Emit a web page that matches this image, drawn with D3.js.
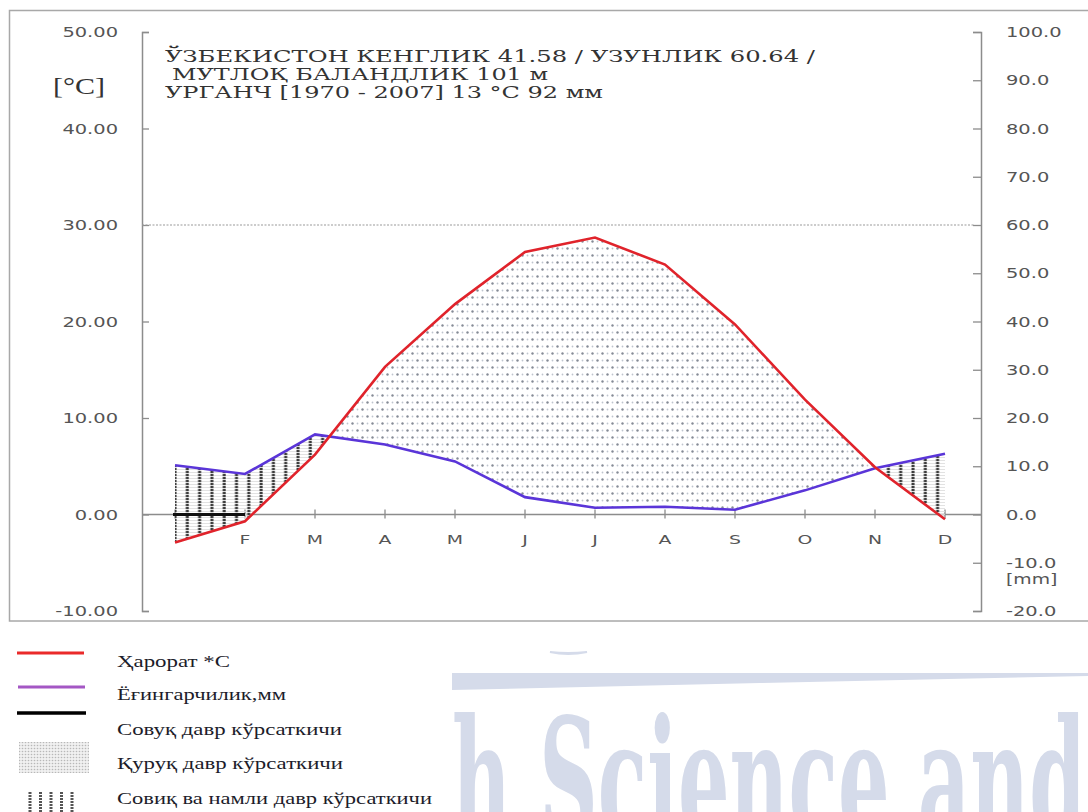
<!DOCTYPE html>
<html>
<head>
<meta charset="utf-8">
<script src="https://cdn.jsdelivr.net/npm/d3@7"></script>
<style>
body { margin: 0; background: #fff; }
svg { display: block; }
</style>
</head>
<body>
<svg id="chart" width="1088" height="812"></svg>
<script>
"use strict"

// climate data, Urgench 1970-2007
const months = ["J", "F", "M", "A", "M", "J", "J", "A", "S", "O", "N", "D"]
const temperature = [-2.9, -0.7, 6.2, 15.3, 21.8, 27.2, 28.7, 25.9, 19.7, 11.9, 4.9, -0.5]
const precipitation = [10.2, 8.4, 16.6, 14.5, 11.0, 3.6, 1.4, 1.6, 1.0, 5.0, 9.6, 12.6]
const coldMonths = [0, 1]

const tempTicks = [-10, 0, 10, 20, 30, 40, 50]
const precTicks = [-20, -10, 0, 10, 20, 30, 40, 50, 60, 70, 80, 90, 100]

const titleLines = [
    "ЎЗБЕКИСТОН  КЕНГЛИК  41.58 / УЗУНЛИК 60.64 /",
    "МУТЛОҚ БАЛАНДЛИК 101 м",
    "УРГАНЧ [1970 - 2007] 13 °C   92 мм"
]
const legendLabels = [
    "Ҳарорат *С",
    "Ёғингарчилик,мм",
    "Совуқ давр кўрсаткичи",
    "Қуруқ давр кўрсаткичи",
    "Совиқ ва намли давр кўрсаткичи"
]
const watermarkText = "h Science and"

const svg = d3.select("#chart")
const axisGray = "#8c8c8c"
const labelGray = "#555"
const red = "#e0232b"
const blue = "#5a35d8"
const serif = "'Liberation Serif', 'DejaVu Serif', serif"

// stretch text horizontally like the scanned original
function stretch(sel, k) {
    sel.each(function() {
        let w = this.getComputedTextLength()
        if (w > 0) d3.select(this).attr("textLength", w * k).attr("lengthAdjust", "spacingAndGlyphs")
    })
}

function fitTo(sel, width) {
    sel.attr("textLength", width).attr("lengthAdjust", "spacingAndGlyphs")
}

// ---------- watermark (behind everything) ----------
const wm = svg.append("g").attr("fill", "#d5dbea")
wm.append("path")
    .attr("d", "M452,673 L1088,673 L1088,676 L760,683 L452,690 Z")
wm.append("path")
    .attr("d", "M550,652 Q568,656 587,652 Q568,654 550,652 Z")
    .attr("stroke", "#d5dbea").attr("stroke-width", 2)
wm.append("text")
    .attr("x", 452).attr("y", 840)
    .style("font-family", "'DejaVu Serif'")
    .style("font-weight", "bold")
    .style("font-size", "168px")
    .text(watermarkText)
    .call(fitTo, 634)

// ---------- frame ----------
svg.append("rect")
    .attr("x", 9.5).attr("y", 10.5)
    .attr("width", 1100).attr("height", 610.5)
    .attr("fill", "none").attr("stroke", "#a8a8a8").attr("stroke-width", 1.5)

// ---------- scales ----------
const x = d3.scaleLinear().domain([0, 11]).range([175, 945])
const yT = d3.scaleLinear().domain([-10, 50]).range([611, 32])
const yP = d3.scaleLinear().domain([-20, 100]).range([611, 32])
const axisLeftX = 142, axisRightX = 981

const rows = d3.range(months.length).map(i => ({ i: i, t: temperature[i], p: precipitation[i] }))

// ---------- patterns ----------
const defs = svg.append("defs")

const dots = defs.append("pattern")
    .attr("id", "dots").attr("patternUnits", "userSpaceOnUse")
    .attr("width", 10).attr("height", 14)
dots.append("circle").attr("cx", 2.5).attr("cy", 3.5).attr("r", 1.2).attr("fill", "#858b96")
dots.append("circle").attr("cx", 7.5).attr("cy", 10.5).attr("r", 1.2).attr("fill", "#858b96")
dots.append("circle").attr("cx", 7.5).attr("cy", 3.5).attr("r", 0.9).attr("fill", "#bfc5ce")
dots.append("circle").attr("cx", 2.5).attr("cy", 10.5).attr("r", 0.9).attr("fill", "#bfc5ce")

const hatch = defs.append("pattern")
    .attr("id", "hatch").attr("patternUnits", "userSpaceOnUse")
    .attr("x", 173).attr("width", 12.3).attr("height", 3)
hatch.append("line")
    .attr("x1", 0).attr("x2", 12.3).attr("y1", 1.5).attr("y2", 1.5)
    .attr("stroke", "#dcdcdc").attr("stroke-width", 0.8)
hatch.append("line")
    .attr("x1", 2).attr("x2", 2).attr("y1", 0).attr("y2", 3)
    .attr("stroke", "#3a3a3a").attr("stroke-width", 3).attr("stroke-dasharray", "2.2,0.8")

const legendDots = defs.append("pattern")
    .attr("id", "legendDots").attr("patternUnits", "userSpaceOnUse")
    .attr("width", 3).attr("height", 3)
legendDots.append("rect").attr("width", 3).attr("height", 3).attr("fill", "#f0f0f0")
legendDots.append("circle").attr("cx", 1.5).attr("cy", 1.5).attr("r", 0.8).attr("fill", "#b8b8b8")

// clip regions: below red line, below blue line
const belowRed = d3.area().x(d => x(d.i)).y0(812).y1(d => yT(d.t))
const belowBlue = d3.area().x(d => x(d.i)).y0(812).y1(d => yP(d.p))
defs.append("clipPath").attr("id", "clipBelowRed").append("path").attr("d", belowRed(rows))
defs.append("clipPath").attr("id", "clipBelowBlue").append("path").attr("d", belowBlue(rows))

// ---------- axes ----------
const gLeft = svg.append("g")
    .attr("transform", "translate(" + axisLeftX + ",0)")
    .call(d3.axisLeft(yT).tickValues(tempTicks).tickFormat(d => d.toFixed(2))
        .tickSize(-7).tickPadding(24))
const gRight = svg.append("g")
    .attr("transform", "translate(" + axisRightX + ",0)")
    .call(d3.axisRight(yP).tickValues(precTicks).tickFormat(d => d.toFixed(1))
        .tickSize(-8).tickPadding(25))

;[gLeft, gRight].forEach(g => {
    g.select(".domain").attr("stroke", axisGray).attr("stroke-width", 1.5)
    g.selectAll(".tick line").attr("stroke", axisGray).attr("stroke-width", 1.3)
    g.selectAll(".tick text")
        .attr("fill", labelGray)
        .style("font-family", "'DejaVu Sans'")
        .style("font-size", "14.5px")
        .call(stretch, 1.34)
})

gRight.append("text")
    .attr("x", 25).attr("y", yP(-10) + 21)
    .attr("fill", labelGray)
    .style("font-family", "'DejaVu Sans'")
    .style("font-size", "14.5px")
    .text("[mm]")
    .call(stretch, 1.3)

// 30 °C / 60 mm reference line
svg.append("line")
    .attr("x1", axisLeftX).attr("x2", axisRightX - 6)
    .attr("y1", yT(30)).attr("y2", yT(30))
    .attr("stroke", "#9a9a9a").attr("stroke-width", 1.2).attr("stroke-dasharray", "2,1.5")

// month axis on the zero line
const gX = svg.append("g")
    .attr("transform", "translate(0," + yT(0) + ")")
gX.append("line")
    .attr("x1", axisLeftX).attr("x2", axisRightX)
    .attr("stroke", axisGray).attr("stroke-width", 1.5)
gX.selectAll(".mtick")
    .data(rows)
    .enter().append("line")
        .attr("class", "mtick")
        .attr("x1", d => x(d.i)).attr("x2", d => x(d.i))
        .attr("y1", -5).attr("y2", 4)
        .attr("stroke", axisGray).attr("stroke-width", 1.3)
gX.selectAll(".mlabel")
    .data(rows.slice(1)) // January label is hidden under the humid fill in the original
    .enter().append("text")
        .attr("class", "mlabel")
        .attr("x", d => x(d.i)).attr("y", 29)
        .attr("text-anchor", "middle")
        .attr("fill", labelGray)
        .style("font-family", "'DejaVu Sans'")
        .style("font-size", "13px")
        .text(d => months[d.i])
        .call(stretch, 1.45)

// ---------- fills ----------
// dry: below temperature, above precipitation
svg.append("path")
    .attr("clip-path", "url(#clipBelowRed)")
    .attr("fill", "url(#dots)")
    .attr("d", d3.area().x(d => x(d.i)).y0(0).y1(d => yP(d.p))(rows))

// humid: below precipitation, above temperature
svg.append("path")
    .attr("clip-path", "url(#clipBelowBlue)")
    .attr("fill", "url(#hatch)")
    .attr("d", d3.area().x(d => x(d.i)).y0(0).y1(d => yT(d.t))(rows))

// ---------- lines ----------
svg.append("path")
    .datum(rows)
    .attr("fill", "none").attr("stroke", blue).attr("stroke-width", 2.6)
    .attr("d", d3.line().x(d => x(d.i)).y(d => yP(d.p)))

svg.append("path")
    .datum(rows)
    .attr("fill", "none").attr("stroke", red).attr("stroke-width", 2.6)
    .attr("d", d3.line().x(d => x(d.i)).y(d => yT(d.t)))

svg.append("line")
    .attr("x1", x(coldMonths[0]) - 2).attr("x2", x(coldMonths[coldMonths.length - 1]))
    .attr("y1", yT(0)).attr("y2", yT(0))
    .attr("stroke", "#111").attr("stroke-width", 3.2)

// ---------- title ----------
const titleX = [165, 172, 165]
const titleW = [650, 376, 438]
const titleY = [62, 80, 98]
svg.append("g").selectAll("text")
    .data(titleLines)
    .enter().append("text")
        .attr("x", (d, i) => titleX[i])
        .attr("y", (d, i) => titleY[i])
        .attr("fill", "#333")
        .attr("font-family", "DejaVu Serif")
        .attr("font-size", 16)
        .text(d => d)
        .each(function(d, i) { fitTo(d3.select(this), titleW[i]) })

svg.append("text")
    .attr("x", 53).attr("y", 94)
    .attr("fill", "#333")
    .style("font-family", serif)
    .style("font-size", "24px")
    .text("[°C]")
    .call(fitTo, 52)

// ---------- legend ----------
const legend = svg.append("g")
const legendY = [667, 700, 735, 769, 804]
const legendW = [113, 169, 225, 226, 315]

legend.append("line").attr("x1", 17).attr("x2", 84).attr("y1", 653).attr("y2", 653)
    .attr("stroke", "#ea2a2a").attr("stroke-width", 3)
legend.append("line").attr("x1", 18).attr("x2", 85).attr("y1", 687).attr("y2", 687)
    .attr("stroke", "#a457c4").attr("stroke-width", 3)
legend.append("line").attr("x1", 17).attr("x2", 86).attr("y1", 713).attr("y2", 713)
    .attr("stroke", "#000").attr("stroke-width", 3.5)
legend.append("rect").attr("x", 19).attr("y", 742).attr("width", 70).attr("height", 31)
    .attr("fill", "url(#legendDots)")
legend.selectAll(".bar")
    .data(d3.range(5))
    .enter().append("line")
        .attr("class", "bar")
        .attr("x1", d => 30 + d * 10.5).attr("x2", d => 30 + d * 10.5)
        .attr("y1", 792).attr("y2", 812)
        .attr("stroke", "#555").attr("stroke-width", 3).attr("stroke-dasharray", "2,1")

legend.selectAll(".ltext")
    .data(legendLabels)
    .enter().append("text")
        .attr("class", "ltext")
        .attr("x", 117)
        .attr("y", (d, i) => legendY[i])
        .attr("fill", "#1c1c2a")
        .style("font-family", serif)
        .style("font-size", "17px")
        .text(d => d)
        .each(function(d, i) { fitTo(d3.select(this), legendW[i]) })
</script>
</body>
</html>
